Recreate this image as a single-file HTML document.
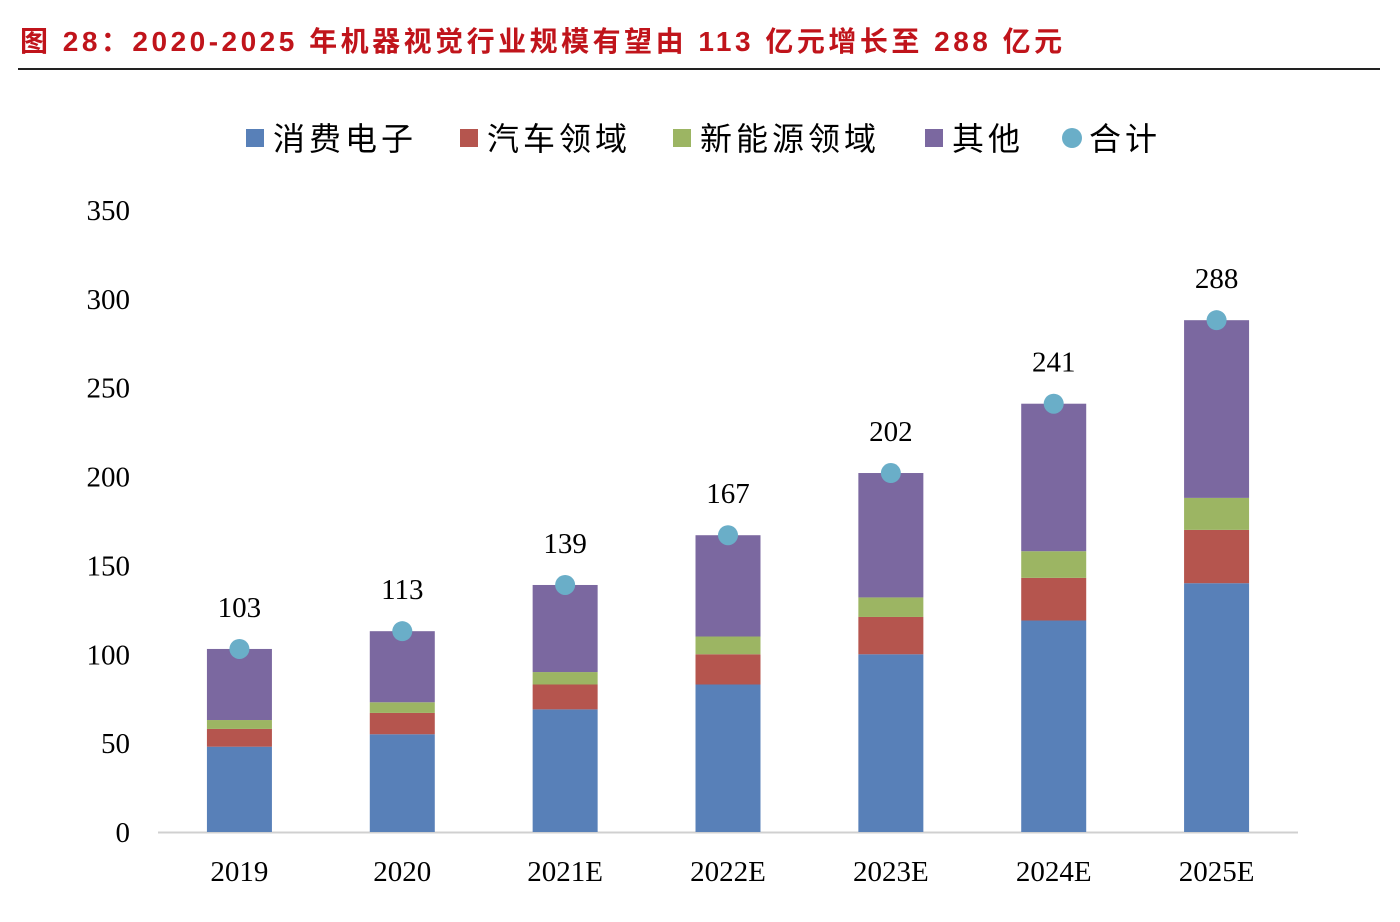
<!DOCTYPE html>
<html><head><meta charset="utf-8">
<style>
body{margin:0;background:#fff;width:1400px;height:922px;overflow:hidden;}
.title{position:absolute;left:20px;top:20px;font:bold 28px "Liberation Sans","Noto Sans CJK SC",sans-serif;color:#c0141b;white-space:nowrap;letter-spacing:3.5px;}
.rule{position:absolute;left:18px;top:68px;width:1362px;height:2px;background:#222;}
</style></head>
<body>
<div class="title">图 28：2020-2025 年机器视觉行业规模有望由 113 亿元增长至 288 亿元</div>
<div class="rule"></div>
<svg id="chart" width="1400" height="922" style="position:absolute;left:0;top:0"></svg>
<script>
const categories=["2019","2020","2021E","2022E","2023E","2024E","2025E"];
const consumer=[48,55,69,83,100,119,140];
const auto=[10,12,14,17,21,24,30];
const newEnergy=[5,6,7,10,11,15,18];
const other=[40,40,49,57,70,83,100];
const totals=[103,113,139,167,202,241,288];
const yTicks=[0,50,100,150,200,250,300,350];
const seriesNames=["消费电子","汽车领域","新能源领域","其他","合计"];

const svg=document.getElementById('chart');
const NS='http://www.w3.org/2000/svg';
const x0=158,x1=1298,y0=832,yTop=210,yMax=350;
const band=(x1-x0)/categories.length;
const barW=65;
const y=v=>y0-(v/yMax)*(y0-yTop);
const xc=i=>x0+band*(i+0.5);
function mk(tag,attrs,parent){const e=document.createElementNS(NS,tag);for(const k in attrs)e.setAttribute(k,attrs[k]);(parent||svg).appendChild(e);return e;}
const serif='"Liberation Serif","Noto Serif CJK SC",serif';
const cjk='"Liberation Sans","Noto Sans CJK SC",sans-serif';
yTicks.forEach(t=>{
  const tx=mk('text',{x:130,y:y(t)+10,'text-anchor':'end','font-size':29,'font-family':serif,fill:'#000'});
  tx.textContent=t;
  
  
});
const axis=mk('line',{x1:x0,x2:x1,y1:y0+0.5,y2:y0+0.5,stroke:'#d0d0d0','stroke-width':2});


const colors=["#5880b8","#b5554e","#9cb563","#7b68a0"];
const series=[consumer,auto,newEnergy,other];
const segNames=["bar-consumer","bar-auto","bar-new-energy","bar-other"];
categories.forEach((c,i)=>{
  let base=0;
  series.forEach((s,k)=>{
    const r=mk('rect',{x:xc(i)-barW/2,y:y(base+s[i]),width:barW,height:y(base)-y(base+s[i]),fill:colors[k]});
    
    
    base+=s[i];
  });
  const d=mk('circle',{cx:xc(i),cy:y(totals[i]),r:10,fill:'#6aaec8'});
  
  
  const lt=mk('text',{x:xc(i),y:y(totals[i])-32,'text-anchor':'middle','font-size':29,'font-family':serif,fill:'#000'});
  lt.textContent=totals[i];
  
  
  const xl=mk('text',{x:xc(i),y:881,'text-anchor':'middle','font-size':29,'font-family':serif,fill:'#000'});
  xl.textContent=c;
  
  
});
const legX=[246,460,673,925,1062];
const legColors=colors.concat(["#6aaec8"]);
seriesNames.forEach((n,k)=>{
  const g=mk('g',{});
  
  
  if(k<4) mk('rect',{x:legX[k],y:129,width:18,height:18,fill:legColors[k]},g);
  else mk('circle',{cx:legX[k]+10,cy:138,r:10,fill:legColors[k]},g);
  const t=mk('text',{x:legX[k]+27,y:150,'font-size':32,'font-family':cjk,fill:'#000','letter-spacing':4},g);
  t.textContent=n;
});
</script>
</body></html>
